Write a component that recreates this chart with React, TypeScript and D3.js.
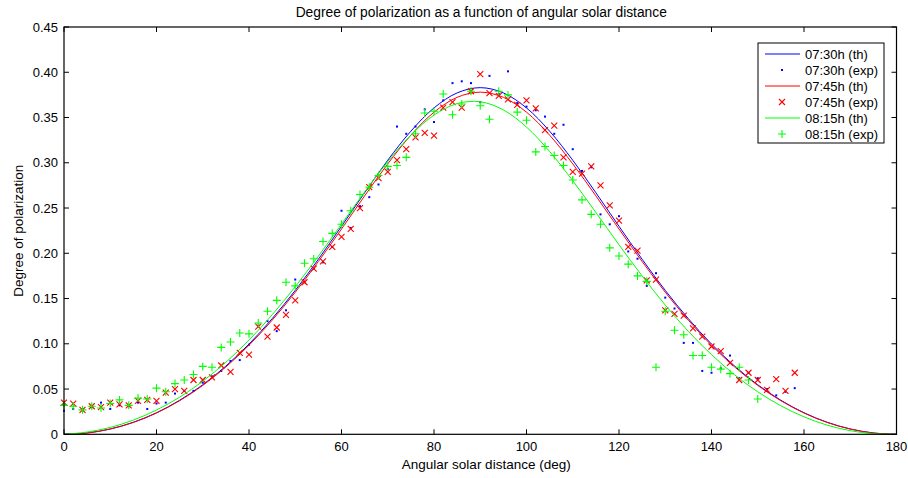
import React from "react";
import * as d3 from "d3";

// ---------- data ----------
const thAngles: number[] = d3.range(0, 181, 5);
const th0730: number[] = [0, 0.0015, 0.0059, 0.0133, 0.0238, 0.0376, 0.0547, 0.0754, 0.0997, 0.1277, 0.159, 0.1934, 0.2298, 0.2669, 0.3028, 0.3349, 0.3606, 0.3772, 0.383, 0.3772, 0.3606, 0.3349, 0.3028, 0.2669, 0.2298, 0.1934, 0.159, 0.1277, 0.0997, 0.0754, 0.0547, 0.0376, 0.0238, 0.0133, 0.0059, 0.0015, 0];
const th0745: number[] = [0, 0.0014, 0.0058, 0.0131, 0.0235, 0.0371, 0.054, 0.0744, 0.0984, 0.126, 0.157, 0.1909, 0.2268, 0.2634, 0.2988, 0.3305, 0.3559, 0.3723, 0.378, 0.3723, 0.3559, 0.3305, 0.2988, 0.2634, 0.2268, 0.1909, 0.157, 0.126, 0.0984, 0.0744, 0.054, 0.0371, 0.0235, 0.0131, 0.0058, 0.0014, 0];
const th0815: number[] = [0, 0.0025, 0.0076, 0.0157, 0.0268, 0.041, 0.0586, 0.0796, 0.104, 0.132, 0.1631, 0.1968, 0.2322, 0.2678, 0.3013, 0.3305, 0.3527, 0.3654, 0.3674, 0.3584, 0.3394, 0.3124, 0.2802, 0.2451, 0.2094, 0.175, 0.1428, 0.1137, 0.088, 0.0657, 0.0469, 0.0315, 0.0193, 0.0101, 0.004, 0.0007, 0];

const expAngles: number[] = d3.range(0, 159, 2);
const exp0730: number[] = [0.026, 0.028, 0.027, 0.03, 0.035, 0.028, 0.032, 0.031, 0.035, 0.028, 0.034, 0.035, 0.045, 0.048, 0.048, 0.057, 0.064, 0.07, 0.081, 0.082, 0.099, 0.12, 0.125, 0.114, 0.137, 0.171, 0.168, 0.183, 0.19, 0.207, 0.247, 0.228, 0.252, 0.262, 0.276, 0.293, 0.34, 0.332, 0.34, 0.359, 0.345, 0.369, 0.388, 0.39, 0.388, 0.367, 0.396, 0.376, 0.401, 0.366, 0.362, 0.358, 0.351, 0.332, 0.342, 0.315, 0.291, 0.295, 0.243, 0.232, 0.241, 0.202, 0.194, 0.164, 0.178, 0.151, 0.139, 0.101, 0.101, 0.07, 0.068, 0.073, 0.087, 0.062, 0.068, 0.062, 0.05, 0.043, 0.047, 0.051];
const exp0745: number[] = [0.035, 0.034, 0.027, 0.031, 0.03, 0.035, 0.033, 0.032, 0.037, 0.038, 0.037, 0.046, 0.05, 0.048, 0.06, 0.06, 0.063, 0.076, 0.069, 0.09, 0.088, 0.119, 0.108, 0.118, 0.132, 0.148, 0.168, 0.183, 0.191, 0.207, 0.218, 0.227, 0.25, 0.273, 0.283, 0.29, 0.303, 0.315, 0.328, 0.333, 0.33, 0.361, 0.367, 0.361, 0.379, 0.398, 0.377, 0.374, 0.37, 0.364, 0.369, 0.36, 0.336, 0.341, 0.306, 0.29, 0.288, 0.296, 0.275, 0.253, 0.236, 0.207, 0.203, 0.17, 0.171, 0.137, 0.133, 0.131, 0.117, 0.108, 0.097, 0.092, 0.079, 0.06, 0.068, 0.06, 0.049, 0.061, 0.048, 0.068];
const exp0815Angles: number[] = d3.range(0, 151, 2);
const exp0815: number[] = [0.032, 0.031, 0.027, 0.031, 0.029, 0.034, 0.038, 0.032, 0.04, 0.039, 0.051, 0.047, 0.056, 0.06, 0.066, 0.075, 0.074, 0.096, 0.102, 0.112, 0.111, 0.123, 0.136, 0.148, 0.168, 0.164, 0.189, 0.194, 0.213, 0.222, 0.232, 0.247, 0.265, 0.273, 0.286, 0.296, 0.297, 0.306, 0.332, 0.355, 0.357, 0.376, 0.353, 0.365, 0.379, 0.363, 0.348, 0.379, 0.375, 0.356, 0.347, 0.312, 0.318, 0.308, 0.297, 0.281, 0.259, 0.243, 0.232, 0.206, 0.197, 0.188, 0.175, 0.169, 0.074, 0.136, 0.115, 0.11, 0.087, 0.087, 0.074, 0.072, 0.067, 0.074, 0.06, 0.039];

const xTicks: number[] = [0, 20, 40, 60, 80, 100, 120, 140, 160, 180];
const yTicks: number[] = [0, 0.05, 0.1, 0.15, 0.2, 0.25, 0.3, 0.35, 0.4, 0.45];
const legendLabels: string[] = ["07:30h (th)", "07:30h (exp)", "07:45h (th)", "07:45h (exp)", "08:15h (th)", "08:15h (exp)"];

const BLUE = "#0000ff";
const RED = "#ff0000";
const GREEN = "#00ff00";
const FONT = "'Liberation Sans', Arial, Helvetica, sans-serif";

const W = 908, H = 478;
const L = 64, R = 896.5, T = 27, B = 434.3;

const x = d3.scaleLinear().domain([0, 180]).range([L, R]);
const y = d3.scaleLinear().domain([0, 0.45]).range([B, T]);

const lineGen = d3
  .line<[number, number]>()
  .x((d) => x(d[0]))
  .y((d) => y(d[1]))
  .curve(d3.curveCatmullRom.alpha(0.5));

const pairs = (a: number[], v: number[]): [number, number][] => a.map((d, i) => [d, v[i]]);

const Dot = ({ cx, cy }: { cx: number; cy: number }) => (
  <rect x={cx - 1} y={cy - 1} width={2} height={2} fill={BLUE} />
);
const Cross = ({ cx, cy }: { cx: number; cy: number }) => (
  <path d={`M${cx - 3},${cy - 3}L${cx + 3},${cy + 3}M${cx - 3},${cy + 3}L${cx + 3},${cy - 3}`} stroke={RED} strokeWidth={1.1} fill="none" />
);
const Plus = ({ cx, cy }: { cx: number; cy: number }) => (
  <path d={`M${cx - 4},${cy}L${cx + 4},${cy}M${cx},${cy - 4}L${cx},${cy + 4}`} stroke={GREEN} strokeWidth={1.1} fill="none" />
);

export default function App() {
  const tickLen = 5;
  const legX = 758, legY = 43, legW = 126, legH = 100;
  return (
    <svg width={W} height={H} style={{ position: "absolute", left: 0, top: 0, background: "#fff" }} fontFamily={FONT}>
      <rect x={0} y={0} width={W} height={H} fill="#fff" />
      {/* series */}
      <path d={lineGen(pairs(thAngles, th0730)) || ""} stroke={BLUE} fill="none" strokeWidth={1} />
      {expAngles.map((a, i) => (
        <Dot key={"b" + i} cx={x(a)} cy={y(exp0730[i])} />
      ))}
      <path d={lineGen(pairs(thAngles, th0745)) || ""} stroke={RED} fill="none" strokeWidth={1} />
      {expAngles.map((a, i) => (
        <Cross key={"r" + i} cx={x(a)} cy={y(exp0745[i])} />
      ))}
      <path d={lineGen(pairs(thAngles, th0815)) || ""} stroke={GREEN} fill="none" strokeWidth={1} />
      {exp0815Angles.map((a, i) => (
        <Plus key={"g" + i} cx={x(a)} cy={y(exp0815[i])} />
      ))}

      {/* axes box */}
      <rect x={L} y={T} width={R - L} height={B - T} fill="none" stroke="#000" strokeWidth={1.2} />
      {xTicks.map((t) => (
        <g key={"xt" + t}>
          <line x1={x(t)} x2={x(t)} y1={B} y2={B - tickLen} stroke="#000" />
          <line x1={x(t)} x2={x(t)} y1={T} y2={T + tickLen} stroke="#000" />
          <text x={x(t)} y={451} fontSize={13} textAnchor="middle" fill="#000">
            {t}
          </text>
        </g>
      ))}
      {yTicks.map((t) => (
        <g key={"yt" + t}>
          <line x1={L} x2={L + tickLen} y1={y(t)} y2={y(t)} stroke="#000" />
          <line x1={R} x2={R - tickLen} y1={y(t)} y2={y(t)} stroke="#000" />
          <text x={58} y={y(t) + 4.5} fontSize={13} textAnchor="end" fill="#000">
            {t === 0 ? "0" : d3.format(".2f")(t)}
          </text>
        </g>
      ))}

      {/* labels */}
      <text x={(L + R) / 2 + 1} y={17} fontSize={13.8} textAnchor="middle" fill="#000">
        Degree of polarization as a function of angular solar distance
      </text>
      <text x={(L + R) / 2 + 6} y={469} fontSize={13.5} textAnchor="middle" fill="#000">
        Angular solar distance (deg)
      </text>
      <text transform={`translate(23,${(T + B) / 2}) rotate(-90)`} fontSize={13.5} textAnchor="middle" fill="#000">
        Degree of polarization
      </text>

      {/* legend */}
      <rect x={legX} y={legY} width={legW} height={legH} fill="#fff" stroke="#000" strokeWidth={1} />
      {legendLabels.map((lab, i) => {
        const cy = 54 + i * 16;
        const col = [BLUE, BLUE, RED, RED, GREEN, GREEN][i];
        const mid = 782;
        let sym: React.ReactNode = null;
        if (i % 2 === 0) sym = <line x1={765} x2={800} y1={cy} y2={cy} stroke={col} strokeWidth={1} />;
        else if (i === 1) sym = <Dot cx={mid} cy={cy} />;
        else if (i === 3) sym = <Cross cx={mid} cy={cy} />;
        else sym = <Plus cx={mid} cy={cy} />;
        return (
          <g key={"lg" + i}>
            {sym}
            <text x={805} y={cy + 4.5} fontSize={13} fill="#000">
              {lab}
            </text>
          </g>
        );
      })}
    </svg>
  );
}
